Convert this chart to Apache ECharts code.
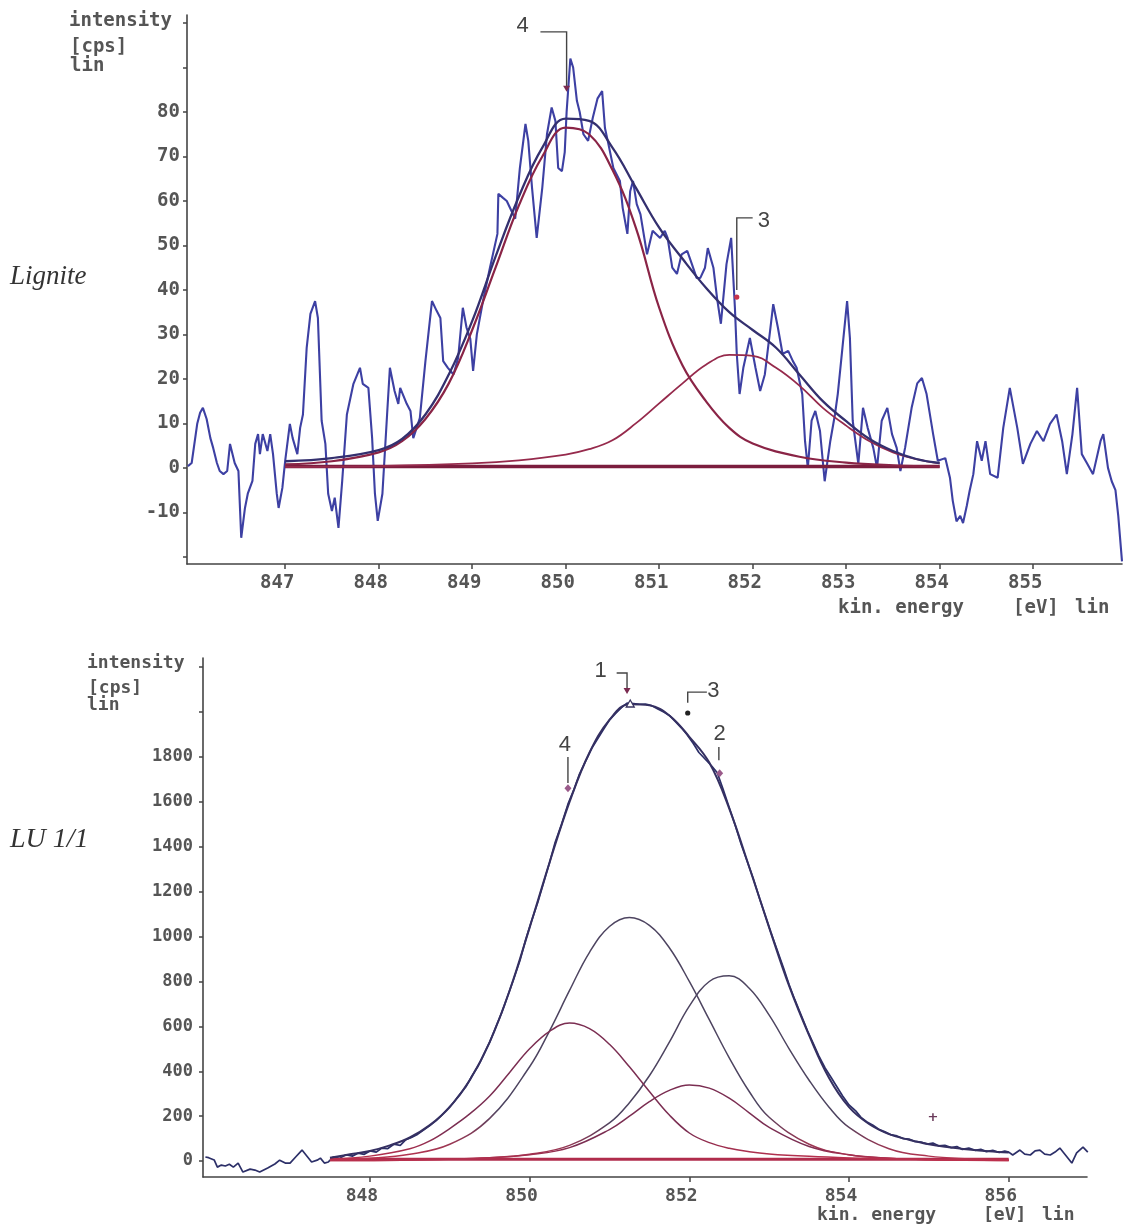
<!DOCTYPE html>
<html><head><meta charset="utf-8">
<script src="https://cdn.jsdelivr.net/npm/echarts@6.0.0/dist/echarts.min.js"></script>
<style>html,body{margin:0;padding:0;background:#fff;}#c{width:1124px;height:1226px;}</style>
</head><body><div id="c"></div>
<script>
// ---------- Top chart (Lignite) ----------
const topXTicks = [847, 848, 849, 850, 851, 852, 853, 854, 855];
const topYTicks = [-20, -10, 0, 10, 20, 30, 40, 50, 60, 70, 80, 90, 100];
const topYLabels = [-10, 0, 10, 20, 30, 40, 50, 60, 70, 80];
const topSpectrum = [
[845.96,0.4],[846.00,1.1],[846.06,10],[846.09,12.4],[846.12,13.5],[846.16,11],[846.20,6.7],[846.23,4.5],[846.27,1.1],[846.30,-0.7],[846.34,-1.4],[846.38,-0.7],[846.41,5.4],[846.46,1.1],[846.50,-0.7],[846.53,-15.7],[846.57,-9],[846.60,-5.8],[846.65,-2.9],[846.68,5.4],[846.71,7.6],[846.73,3.1],[846.76,7.6],[846.81,3.8],[846.84,7.6],[846.87,3.1],[846.91,-5.8],[846.93,-9],[846.97,-4.5],[847.00,1.6],[847.05,9.9],[847.08,6.7],[847.13,3.1],[847.16,9],[847.19,12],[847.23,27],[847.27,34.6],[847.32,37.5],[847.35,33.7],[847.39,10.6],[847.43,5.4],[847.46,-5.8],[847.50,-9.7],[847.53,-6.7],[847.57,-13.5],[847.61,-2.9],[847.66,12],[847.73,18.9],[847.80,22.5],[847.83,18.9],[847.89,18],[847.93,6.7],[847.96,-5.8],[847.99,-11.9],[848.04,-5.8],[848.09,12],[848.12,22.5],[848.17,17.3],[848.21,14.4],[848.23,18],[848.30,14.4],[848.34,12.8],[848.37,6.7],[848.44,11.2],[848.50,24],[848.57,37.5],[848.62,35.3],[848.66,33.7],[848.69,24],[848.74,22.5],[848.80,21],[848.85,24.7],[848.90,36],[848.94,31.5],[848.98,29],[849.01,21.8],[849.05,30],[849.12,38],[849.19,45],[849.27,52.6],[849.28,61.6],[849.33,60.7],[849.37,60],[849.46,56],[849.51,67.4],[849.57,77.3],[849.60,73.5],[849.64,63],[849.69,51.7],[849.75,63],[849.80,75],[849.85,81],[849.89,78],[849.92,67.4],[849.96,66.7],[849.99,71],[850.01,80],[850.05,92],[850.08,90],[850.12,82.5],[850.15,80],[850.19,75],[850.24,73.5],[850.29,78.7],[850.34,83],[850.39,84.7],[850.42,76.4],[850.45,73.5],[850.51,67.4],[850.58,64.5],[850.61,58.4],[850.66,52.6],[850.69,62.2],[850.72,64.5],[850.76,59.3],[850.80,57],[850.87,48],[850.93,53.3],[851.01,51.7],[851.06,53.3],[851.09,51.7],[851.14,45],[851.19,43.6],[851.24,48],[851.30,48.8],[851.35,45.8],[851.40,42.7],[851.44,42.7],[851.49,45],[851.52,49.4],[851.58,45],[851.62,38],[851.66,32.4],[851.72,45.8],[851.77,51.7],[851.81,36],[851.83,25.6],[851.86,16.6],[851.90,22.5],[851.97,29.2],[852.03,22.5],[852.08,17.3],[852.13,21],[852.19,31.5],[852.22,36.8],[852.27,31.5],[852.32,25.6],[852.38,26.3],[852.43,24],[852.47,22.5],[852.53,16.6],[852.56,6],[852.59,0],[852.63,10.6],[852.67,12.8],[852.72,8.3],[852.77,-3],[852.83,6],[852.88,12],[852.91,16.6],[852.96,27],[853.01,37.5],[853.04,29.2],[853.07,10.6],[853.13,0.9],[853.18,13.5],[853.23,9],[853.29,4.5],[853.33,0],[853.38,10.6],[853.44,13.5],[853.49,7.6],[853.54,4.5],[853.58,-0.7],[853.63,4.5],[853.70,13.5],[853.76,19],[853.81,20.2],[853.86,16.6],[853.93,7.6],[853.98,1.6],[854.06,2.2],[854.11,-2.2],[854.14,-7.4],[854.18,-12],[854.22,-10.8],[854.25,-12.4],[854.29,-8.5],[854.32,-5.2],[854.36,-1.4],[854.40,6],[854.45,1.6],[854.49,6],[854.54,-1.4],[854.62,-2.2],[854.68,9],[854.75,18],[854.83,9],[854.89,0.9],[854.97,5.4],[855.04,8.3],[855.11,6],[855.18,9.9],[855.25,12],[855.31,6],[855.36,-1.4],[855.42,7.6],[855.47,18],[855.52,3.1],[855.58,0.9],[855.64,-1.4],[855.72,6],[855.75,7.6],[855.80,0],[855.84,-3],[855.88,-5],[855.91,-10.8],[855.95,-21]
];
const topEnvelope = [[847.0,1.5],[847.5,2.2],[848.0,4],[848.25,6.5],[848.5,12],[848.75,21],[849.0,33],[849.25,47.5],[849.5,61],[849.75,72],[850.0,78.5],[850.25,78],[850.5,72],[850.75,63],[851.0,54],[851.25,47],[851.5,40.5],[851.75,35],[852.0,31],[852.25,27],[852.5,21],[852.75,15],[853.0,10.5],[853.25,6.5],[853.5,3.8],[853.75,2],[854.0,1.1]];
const topPeak4 = [[847.0,0.8],[847.5,1.5],[848.0,3.5],[848.25,6],[848.5,11],[848.75,19],[849.0,31],[849.25,45],[849.5,59],[849.75,70],[850.0,76.5],[850.25,75],[850.5,67],[850.75,54],[851.0,36],[851.25,23],[851.5,15],[851.75,9],[852.0,5.5],[852.5,2.5],[853.0,1.2],[853.5,0.6],[854.0,0.3]];
const topPeak3 = [[847.0,0.2],[848.0,0.4],[849.0,1.0],[849.5,1.7],[850.0,3.0],[850.25,4.2],[850.5,6.2],[850.75,10],[851.0,14.5],[851.25,19],[851.5,23.2],[851.75,25.4],[852.0,25.2],[852.25,22.5],[852.5,18.5],[852.75,13.5],[853.0,9.5],[853.25,6],[853.5,3.5],[853.75,2],[854.0,1]];
const topBaseline = [[847.0,0.3],[854.0,0.3]];

// ---------- Bottom chart (LU 1/1) ----------
const botXTicks = [848, 850, 852, 854, 856];
const botYTicks = [0, 200, 400, 600, 800, 1000, 1200, 1400, 1600, 1800, 2000, 2200];
const botYLabels = [0, 200, 400, 600, 800, 1000, 1200, 1400, 1600, 1800];
const botSpectrum = [
[845.94,18],[845.98,15],[846.05,5],[846.09,-27],[846.14,-18],[846.19,-22],[846.24,-14],[846.29,-27],[846.35,-9],[846.41,-49],[846.50,-36],[846.56,-40],[846.62,-49],[846.72,-31],[846.81,-13],[846.87,4],[846.94,-9],[847.00,-9],[847.07,18],[847.15,49],[847.22,18],[847.27,-4],[847.34,4],[847.38,13],[847.43,-9],[847.48,-4],[847.54,18],
[847.62,12],[847.70,28],[847.78,22],[847.85,35],[847.93,30],[848.00,45],[848.08,40],[848.15,58],[848.22,55],[848.30,75],[848.38,70],[848.45,95],[848.52,105],[848.60,120],[848.68,140],[848.75,158],[848.83,180],[848.90,205],[848.98,235],[849.05,262],[849.12,295],[849.20,330],[849.28,380],[849.35,420],[849.42,470],[849.50,530],[849.58,600],[849.65,660],[849.72,730],[849.80,810],[849.88,895],[849.95,985],[850.02,1065],[850.10,1150],[850.18,1245],[850.25,1330],[850.32,1420],[850.40,1500],[850.48,1590],[850.55,1650],[850.62,1720],[850.70,1780],[850.78,1840],[850.85,1880],[850.92,1920],[851.00,1965],[851.08,1995],[851.15,2020],[851.22,2040],[851.30,2038],[851.38,2035],[851.45,2036],[851.52,2030],[851.60,2015],[851.68,2000],[851.75,1985],[851.82,1960],[851.90,1930],[851.97,1900],[852.05,1860],[852.12,1820],[852.20,1790],[852.28,1760],[852.35,1730],[852.42,1660],[852.50,1575],[852.58,1490],[852.65,1410],[852.72,1340],[852.80,1260],[852.88,1170],[852.95,1095],[853.02,1020],[853.10,940],[853.18,860],[853.25,785],[853.32,720],[853.40,650],[853.48,580],[853.55,525],[853.62,470],[853.70,415],[853.78,370],[853.85,330],[853.92,290],[854.00,250],[854.08,225],[854.15,195],[854.22,175],[854.30,160],[854.38,140],[854.45,130],[854.52,118],[854.60,112],[854.68,100],[854.75,98],[854.82,88],[854.90,85],[854.98,76],[855.05,80],[855.12,68],[855.20,70],[855.28,60],[855.35,65],[855.42,52],[855.50,58],[855.58,48],[855.65,52],[855.72,42],[855.80,48],[855.88,38],[855.95,45],[856.00,40],
[856.05,27],[856.14,49],[856.20,31],[856.27,27],[856.33,45],[856.39,49],[856.45,31],[856.52,27],[856.58,40],[856.64,58],[856.69,36],[856.73,18],[856.79,-9],[856.85,36],[856.93,62],[856.99,40]
];
const botEnvelope = [[847.5,15],[847.75,30],[848.0,45],[848.25,70],[848.5,105],[848.75,160],[849.0,240],[849.25,360],[849.5,530],[849.75,760],[850.0,1040],[850.25,1330],[850.5,1600],[850.75,1820],[851.0,1965],[851.25,2035],[851.5,2030],[851.75,1985],[852.0,1890],[852.25,1775],[852.5,1570],[852.75,1310],[853.0,1040],[853.25,780],[853.5,560],[853.75,370],[854.0,240],[854.25,165],[854.5,120],[854.75,95],[855.0,75],[855.25,62],[855.5,52],[855.75,44],[856.0,38]];
const botPeak1 = [[847.5,5],[848.0,12],[848.5,30],[849.0,75],[849.5,190],[850.0,420],[850.25,580],[850.5,760],[850.75,930],[851.0,1045],[851.25,1085],[851.5,1050],[851.75,950],[852.0,800],[852.25,630],[852.5,460],[852.75,310],[853.0,195],[853.5,75],[854.0,28],[854.5,12],[855.0,6],[856.0,3]];
const botPeak2 = [[847.5,2],[848.5,5],[849.5,15],[850.0,30],[850.5,70],[851.0,170],[851.25,260],[851.5,380],[851.75,530],[852.0,690],[852.25,800],[852.5,825],[852.75,770],[853.0,650],[853.25,500],[853.5,360],[853.75,240],[854.0,150],[854.5,55],[855.0,22],[855.5,10],[856.0,5]];
const botPeak3 = [[847.5,2],[848.5,5],[849.5,15],[850.0,28],[850.5,60],[851.0,140],[851.25,200],[851.5,265],[851.75,315],[852.0,339],[852.25,325],[852.5,280],[852.75,215],[853.0,150],[853.5,65],[854.0,28],[854.5,13],[855.0,7],[856.0,3]];
const botPeak4 = [[847.5,8],[848.0,22],[848.5,55],[848.75,90],[849.0,145],[849.25,210],[849.5,290],[849.75,395],[850.0,500],[850.25,578],[850.5,615],[850.75,590],[851.0,520],[851.25,420],[851.5,310],[851.75,205],[852.0,125],[852.25,82],[852.5,57],[852.75,42],[853.0,32],[853.5,21],[854.0,14],[854.5,10],[855.0,7],[856.0,4]];
const botBaseline = [[847.5,8],[856.0,8]];

// annotation anchors (data coordinates)
const topNotes = [
  {label:'4', text:[849.54,99.3], path:[[849.73,98],[850.01,98],[850.01,85.5]], mark:[850.01,85], kind:'tri'},
  {label:'3', text:[852.12,55.5], path:[[852.0,56.2],[851.83,56.2],[851.83,40]], mark:[851.83,38.4], kind:'dot'}
];
const botNotes = [
  {label:'1', text:[850.89,2183], path:[[851.09,2174],[851.22,2174],[851.22,2100]], mark:[851.22,2090], kind:'tri'},
  {label:'3', text:[852.30,2094], path:[[852.22,2089],[851.98,2089],[851.98,2042]], mark:[851.98,1996], kind:'dot'},
  {label:'2', text:[852.38,1902], path:[[852.37,1844],[852.37,1786]], mark:[852.38,1728], kind:'dia'},
  {label:'4', text:[850.44,1853], path:[[850.48,1800],[850.48,1684]], mark:[850.48,1661], kind:'dia'}
];
const botExtra = {open:[851.26,2036], plus:[855.05,192]};

const chart = echarts.init(document.getElementById('c'), null, {renderer:'canvas'});
const MONO = 'DejaVu Sans Mono';
const AX = '#444';
const plain = v => String(v);

function xAx(grid, min, max, ticks, fs){
  return {type:'value', gridIndex:grid, min:min, max:max,
    axisLine:{show:true, onZero:false, lineStyle:{color:AX, width:1.6}},
    axisTick:{show:true, inside:false, length:5, customValues:ticks, lineStyle:{color:AX, width:1.5}},
    axisLabel:{customValues:ticks, formatter:plain, margin:10, fontFamily:MONO, fontWeight:'bold', fontSize:fs, color:'#555', padding:[0,16,0,0]},
    splitLine:{show:false}};
}
function yAx(grid, min, max, ticks, labels, fs, mg){
  return {type:'value', gridIndex:grid, min:min, max:max,
    axisLine:{show:true, onZero:false, lineStyle:{color:AX, width:1.6}},
    axisTick:{show:true, inside:false, length:4, customValues:ticks, lineStyle:{color:AX, width:1.5}},
    axisLabel:{customValues:labels, formatter:plain, margin:mg, fontFamily:MONO, fontWeight:'bold', fontSize:fs, color:'#555'},
    splitLine:{show:false}};
}
function line(data, xi, color, width, smooth, z){
  return {type:'line', xAxisIndex:xi, yAxisIndex:xi, data:data, showSymbol:false, symbol:'none',
    smooth:smooth, lineStyle:{color:color, width:width}, z:z||2, silent:true};
}
const grad = (top, bottom) => ({type:'linear', x:0, y:0, x2:0, y2:1,
  colorStops:[{offset:0,color:top},{offset:0.78,color:top},{offset:1,color:bottom}]});

chart.setOption({
  animation:false,
  backgroundColor:'#fff',
  grid:[
    {left:187, top:15, width:935, height:549, containLabel:false},
    {left:203, top:658, width:884, height:519, containLabel:false}
  ],
  xAxis:[ xAx(0, 845.95, 855.95, topXTicks, 19), xAx(1, 845.91, 856.98, botXTicks, 18) ],
  yAxis:[ yAx(0, -21.6, 101.8, topYTicks, topYLabels, 19, 7), yAx(1, -71, 2241, botYTicks, botYLabels, 17, 10) ],
  series:[
    line(topSpectrum, 0, '#3d40a3', 2.1, false, 2),
    line(topBaseline, 0, '#7b1d3e', 3.5, false, 3),
    line(topPeak3, 0, '#962a4c', 1.8, 0.4, 3),
    line(topPeak4, 0, '#8a2446', 2.2, 0.4, 3),
    line(topEnvelope, 0, '#34306f', 2.3, 0.4, 4),

    line(botSpectrum, 1, '#2c2f68', 1.7, false, 2),
    line(botBaseline, 1, '#b02c4c', 3, false, 3),
    line(botPeak1, 1, grad('#4d4460','#c2304c'), 1.5, 0.4, 3),
    line(botPeak2, 1, grad('#4d4460','#c2304c'), 1.5, 0.4, 3),
    line(botPeak3, 1, grad('#7b2e52','#c2304c'), 1.5, 0.4, 3),
    line(botPeak4, 1, grad('#7b2e52','#c2304c'), 1.5, 0.4, 3),
    line(botEnvelope, 1, '#353062', 2, 0.4, 4)
  ]
});

function P(g, p){ return chart.convertToPixel({gridIndex:g}, p); }
const els = [];
function txt(x, y, s, font, fill, align, va){
  els.push({type:'text', style:{x:x, y:y, text:s, font:font, fill:fill, align:align||'left', verticalAlign:va||'middle'}, z:10});
}
// axis titles
const f19 = 'bold 19px "DejaVu Sans Mono"', f18 = 'bold 18px "DejaVu Sans Mono"';
txt(69, 21, 'intensity', f19, '#555'); txt(70, 47, '[cps]', f19, '#555'); txt(70, 66, 'lin', f19, '#555');
txt(838, 608, 'kin. energy', f19, '#555'); txt(1013, 608, '[eV]', f19, '#555'); txt(1075, 608, 'lin', f19, '#555');
txt(87, 663, 'intensity', f18, '#555'); txt(88, 688, '[cps]', f18, '#555'); txt(87, 705, 'lin', f18, '#555');
txt(817, 1215, 'kin. energy', f18, '#555'); txt(983, 1215, '[eV]', f18, '#555'); txt(1042, 1215, 'lin', f18, '#555');
txt(10, 277, 'Lignite', 'italic 27px "Liberation Serif"', '#333');
txt(10, 840, 'LU 1/1', 'italic 28px "Liberation Serif"', '#333');

function notes(g, list){
  list.forEach(n => {
    const t = P(g, n.text);
    txt(t[0], t[1], n.label, '22px "Liberation Sans"', '#444', 'center', 'middle');
    els.push({type:'polyline', shape:{points:n.path.map(p => P(g, p))}, style:{stroke:'#444', lineWidth:1.4, fill:null}, z:10});
    const m = P(g, n.mark);
    if (n.kind === 'tri') {
      els.push({type:'polygon', shape:{points:[[m[0]-3.5,m[1]-4],[m[0]+3.5,m[1]-4],[m[0],m[1]+2]]}, style:{fill:'#7a2a50'}, z:10});
    } else if (n.kind === 'dot') {
      els.push({type:'circle', shape:{cx:m[0], cy:m[1], r:2.6}, style:{fill: g===0 ? '#c8344c' : '#222'}, z:10});
    } else {
      els.push({type:'polygon', shape:{points:[[m[0],m[1]-4],[m[0]+3.5,m[1]],[m[0],m[1]+4],[m[0]-3.5,m[1]]]}, style:{fill:'#9a5a8a'}, z:10});
    }
  });
}
notes(0, topNotes);
notes(1, botNotes);
const o = P(1, botExtra.open);
els.push({type:'polygon', shape:{points:[[o[0]-4,o[1]+3],[o[0]+4,o[1]+3],[o[0],o[1]-4]]}, style:{fill:'#fff', stroke:'#3a3560', lineWidth:1.3}, z:10});
const pl = P(1, botExtra.plus);
txt(pl[0], pl[1], '+', 'bold 13px "DejaVu Sans"', '#6a3a5a', 'center', 'middle');

chart.setOption({graphic:{elements:els}});
</script>
</body></html>
